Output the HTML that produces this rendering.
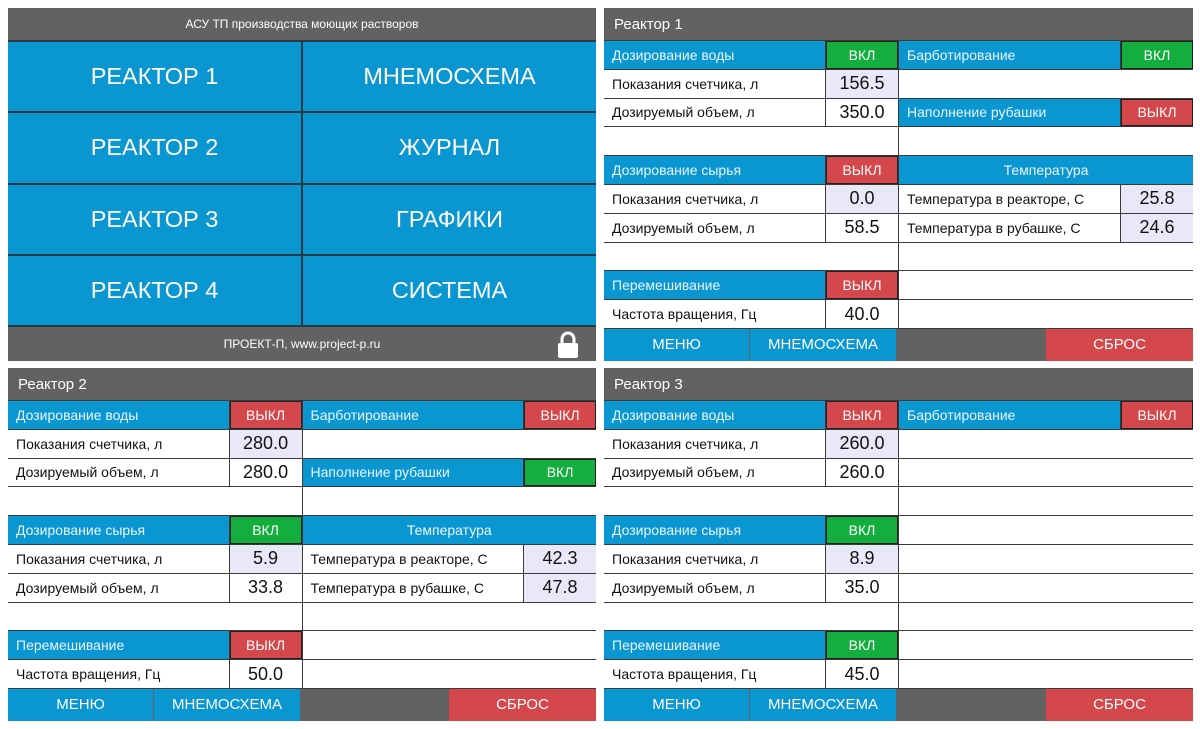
<!DOCTYPE html>
<html><head><meta charset="utf-8"><style>
body{margin:0;width:1200px;height:729px;background:#fff;position:relative;overflow:hidden;font-family:"Liberation Sans",sans-serif}
.p{position:absolute;width:589px;height:353px;display:grid;grid-template-columns:221fr 72fr 221fr 72fr;grid-template-rows:32px repeat(10,1fr) 32px;gap:1px;background:#3a3a3a}
.p>div{display:flex;align-items:center;box-sizing:border-box;overflow:hidden;white-space:nowrap}
.h{grid-column:span 4;background:#626262;color:#fff;font-size:15px;padding-left:10px}
.b{background:#0996d1;color:#eaf6ff;font-size:14px;padding-left:8px}
.t{grid-column:span 2;background:#0996d1;color:#eaf6ff;font-size:14px;justify-content:center}
.s{justify-content:center;color:#fff;font-size:14px;border:1px solid #222}
.g{background:#14ae3f}.r{background:#d4474a}
.w{background:#fff;color:#111;font-size:14px;padding-left:8px}
.v,.l{justify-content:center;font-size:18px;color:#111;background:#fff}
.l{background:#e8e8f8}
.e{grid-column:span 2;background:#fff}
.f{grid-column:span 4;background:#626262;display:flex;padding:0!important}
.f span{display:flex;align-items:center;justify-content:center;color:#fff;font-size:15px;height:100%}
.m{position:absolute;left:8px;top:8px;width:588px;height:353px;display:grid;grid-template-columns:1fr 1fr;grid-template-rows:32px repeat(4,1fr) 34px;gap:2px;background:#2a3a44}
.m>div{display:flex;align-items:center;justify-content:center;background:#0996d1;color:#fff;font-size:23.5px}
.m .mh{grid-column:span 2;background:#626262;font-size:12px}
</style></head><body>
<div class="m">
<div class="mh">АСУ ТП производства моющих растворов</div>
<div>РЕАКТОР 1</div><div>МНЕМОСХЕМА</div>
<div>РЕАКТОР 2</div><div>ЖУРНАЛ</div>
<div>РЕАКТОР 3</div><div>ГРАФИКИ</div>
<div>РЕАКТОР 4</div><div>СИСТЕМА</div>
<div class="mh" style="position:relative">ПРОЕКТ-П, www.project-p.ru
<svg style="position:absolute;right:16px;top:4px" width="24" height="28" viewBox="0 0 24 28"><path d="M6 13V8a6 6 0 0 1 12 0v5" fill="none" stroke="#fff" stroke-width="3"/><rect x="2" y="12" width="20" height="15" rx="2" fill="#fff"/></svg></div>
</div>

<div class="p" style="left:604px;top:8px">
<div class="h">Реактор 1</div>
<div class="b">Дозирование воды</div><div class="s g">ВКЛ</div><div class="b">Барботирование</div><div class="s g">ВКЛ</div>
<div class="w">Показания счетчика, л</div><div class="l">156.5</div><div class="e"></div>
<div class="w">Дозируемый объем, л</div><div class="v">350.0</div><div class="b">Наполнение рубашки</div><div class="s r">ВЫКЛ</div>
<div class="e"></div><div class="e"></div>
<div class="b">Дозирование сырья</div><div class="s r">ВЫКЛ</div><div class="t">Температура</div>
<div class="w">Показания счетчика, л</div><div class="l">0.0</div><div class="w">Температура в реакторе, С</div><div class="l">25.8</div>
<div class="w">Дозируемый объем, л</div><div class="v">58.5</div><div class="w">Температура в рубашке, С</div><div class="l">24.6</div>
<div class="e"></div><div class="e"></div>
<div class="b">Перемешивание</div><div class="s r">ВЫКЛ</div><div class="e"></div>
<div class="w">Частота вращения, Гц</div><div class="v">40.0</div><div class="e"></div>
<div class="f"><span style="width:145px;background:#0996d1">МЕНЮ</span><span style="width:146px;background:#0996d1;margin-left:1px">МНЕМОСХЕМА</span><span style="flex:1"></span><span style="width:147px;background:#d4474a">СБРОС</span></div>
</div>

<div class="p" style="left:8px;top:368px;width:588px">
<div class="h">Реактор 2</div>
<div class="b">Дозирование воды</div><div class="s r">ВЫКЛ</div><div class="b">Барботирование</div><div class="s r">ВЫКЛ</div>
<div class="w">Показания счетчика, л</div><div class="l">280.0</div><div class="e"></div>
<div class="w">Дозируемый объем, л</div><div class="v">280.0</div><div class="b">Наполнение рубашки</div><div class="s g">ВКЛ</div>
<div class="e"></div><div class="e"></div>
<div class="b">Дозирование сырья</div><div class="s g">ВКЛ</div><div class="t">Температура</div>
<div class="w">Показания счетчика, л</div><div class="l">5.9</div><div class="w">Температура в реакторе, С</div><div class="l">42.3</div>
<div class="w">Дозируемый объем, л</div><div class="v">33.8</div><div class="w">Температура в рубашке, С</div><div class="l">47.8</div>
<div class="e"></div><div class="e"></div>
<div class="b">Перемешивание</div><div class="s r">ВЫКЛ</div><div class="e"></div>
<div class="w">Частота вращения, Гц</div><div class="v">50.0</div><div class="e"></div>
<div class="f"><span style="width:145px;background:#0996d1">МЕНЮ</span><span style="width:146px;background:#0996d1;margin-left:1px">МНЕМОСХЕМА</span><span style="flex:1"></span><span style="width:147px;background:#d4474a">СБРОС</span></div>
</div>

<div class="p" style="left:604px;top:368px">
<div class="h">Реактор 3</div>
<div class="b">Дозирование воды</div><div class="s r">ВЫКЛ</div><div class="b">Барботирование</div><div class="s r">ВЫКЛ</div>
<div class="w">Показания счетчика, л</div><div class="l">260.0</div><div class="e"></div>
<div class="w">Дозируемый объем, л</div><div class="v">260.0</div><div class="e"></div>
<div class="e"></div><div class="e"></div>
<div class="b">Дозирование сырья</div><div class="s g">ВКЛ</div><div class="e"></div>
<div class="w">Показания счетчика, л</div><div class="l">8.9</div><div class="e"></div>
<div class="w">Дозируемый объем, л</div><div class="v">35.0</div><div class="e"></div>
<div class="e"></div><div class="e"></div>
<div class="b">Перемешивание</div><div class="s g">ВКЛ</div><div class="e"></div>
<div class="w">Частота вращения, Гц</div><div class="v">45.0</div><div class="e"></div>
<div class="f"><span style="width:145px;background:#0996d1">МЕНЮ</span><span style="width:146px;background:#0996d1;margin-left:1px">МНЕМОСХЕМА</span><span style="flex:1"></span><span style="width:147px;background:#d4474a">СБРОС</span></div>
</div>
</body></html>
